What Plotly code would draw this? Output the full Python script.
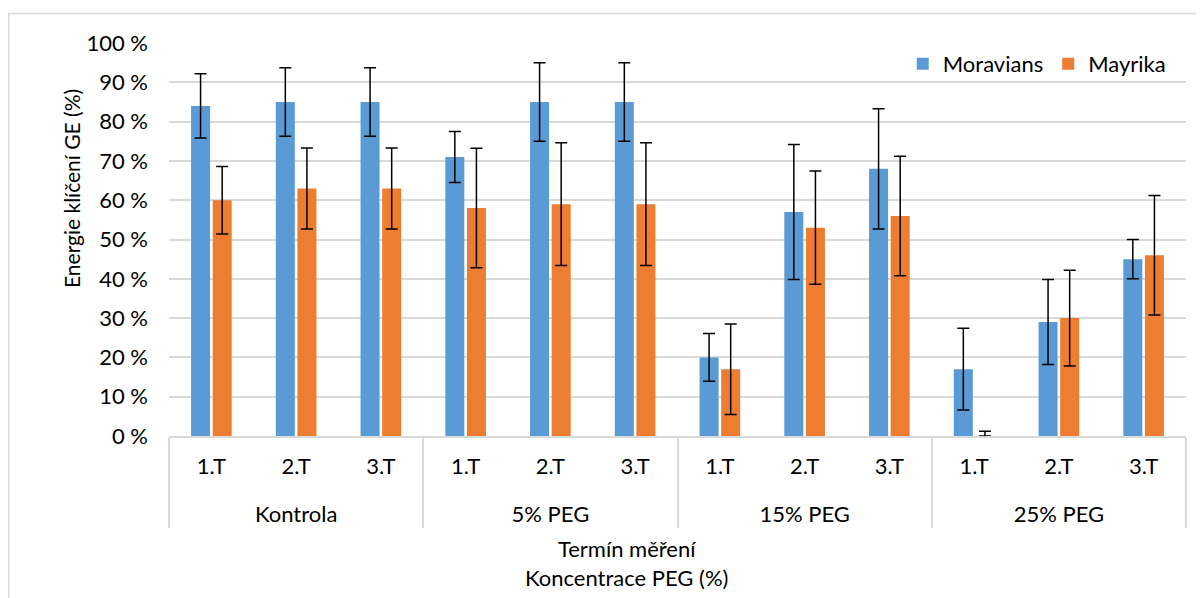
import plotly.graph_objects as go

groups = ["Kontrola", "5% PEG", "15% PEG", "25% PEG"]
terms = ["1.T", "2.T", "3.T"]

moravians = [84, 85, 85, 71, 85, 85, 20, 57, 68, 17, 29, 45]
moravians_err = [8.2, 8.7, 8.7, 6.5, 10.0, 10.0, 6.1, 17.2, 15.3, 10.4, 10.8, 5.0]

mayrika = [60, 63, 63, 58, 59, 59, 17, 53, 56, 0, 30, 46]
mayrika_err_plus = [8.6, 10.3, 10.3, 15.2, 15.6, 15.6, 11.5, 14.4, 15.2, 1.2, 12.2, 15.2]
mayrika_err_minus = [8.6, 10.3, 10.3, 15.2, 15.6, 15.6, 11.5, 14.4, 15.2, 0, 12.2, 15.2]

y_title = "Energie klíčení GE (%)"
x_title = "Termín měření<br>Koncentrace PEG (%)"

x_groups = [g for g in groups for _ in terms]
x_terms = [t + "<br> " for _ in groups for t in terms]

FONT = "Lato"
BLUE = "#5B9BD5"
ORANGE = "#ED7D31"
GRID = "#D9D9D9"

# page is offset by the 8px body margin; plot area spans page x 169..1186, y 43..436
fig = go.Figure()
fig.add_trace(go.Bar(
    name="Moravians", x=[x_groups, x_terms], y=moravians,
    marker=dict(color=BLUE, line=dict(width=0)),
    error_y=dict(type="data", array=moravians_err, visible=True,
                 color="black", thickness=1.5, width=6),
))
fig.add_trace(go.Bar(
    name="Mayrika", x=[x_groups, x_terms], y=mayrika,
    marker=dict(color=ORANGE, line=dict(width=0)),
    error_y=dict(type="data", symmetric=False, array=mayrika_err_plus,
                 arrayminus=mayrika_err_minus, visible=True,
                 color="black", thickness=1.5, width=6),
))

fig.update_layout(
    width=1196, height=590,
    margin=dict(l=161, r=18, t=35, b=162, autoexpand=False),
    paper_bgcolor="white", plot_bgcolor="white",
    barmode="group", bargap=0.49, bargroupgap=0.12,
    font=dict(family=FONT, size=22, color="black"),
    legend=dict(orientation="h", x=0.985, xanchor="right", y=0.947, yanchor="middle",
                bgcolor="rgba(0,0,0,0)", font=dict(size=22), itemwidth=30,
                traceorder="normal"),
    showlegend=True,
)
fig.update_yaxes(
    range=[0, 100], dtick=10, ticksuffix=" %",
    showgrid=True, gridcolor=GRID, gridwidth=2,
    zeroline=False, showline=False, ticks="",
    ticklabelstandoff=20, automargin=False,
    tickfont=dict(size=22),
)
fig.update_xaxes(
    type="multicategory", automargin=False,
    showline=True, linecolor=GRID, linewidth=2,
    showdividers=True, dividercolor=GRID, dividerwidth=2,
    showgrid=False, ticks="",
    ticklabelstandoff=10,
    tickfont=dict(size=22),
)
fig.add_annotation(text=y_title, textangle=-90, showarrow=False,
                   xref="paper", yref="paper",
                   x=(71 - 169) / 1017, y=(436 - 189) / 393,
                   xanchor="center", yanchor="middle", font=dict(size=21))
fig.add_annotation(text=x_title, showarrow=False,
                   xref="paper", yref="paper",
                   x=(626 - 169) / 1017, y=(436 - 562.5) / 393,
                   xanchor="center", yanchor="middle", font=dict(size=22))
fig.add_shape(type="rect", xref="paper", yref="paper",
              x0=(8.7 - 169) / 1017, x1=(1230 - 169) / 1017,
              y0=(436 - 640) / 393, y1=(436 - 13.5) / 393,
              line=dict(color=GRID, width=1.5), fillcolor="rgba(0,0,0,0)", layer="below")

fig.write_html("out.html")
